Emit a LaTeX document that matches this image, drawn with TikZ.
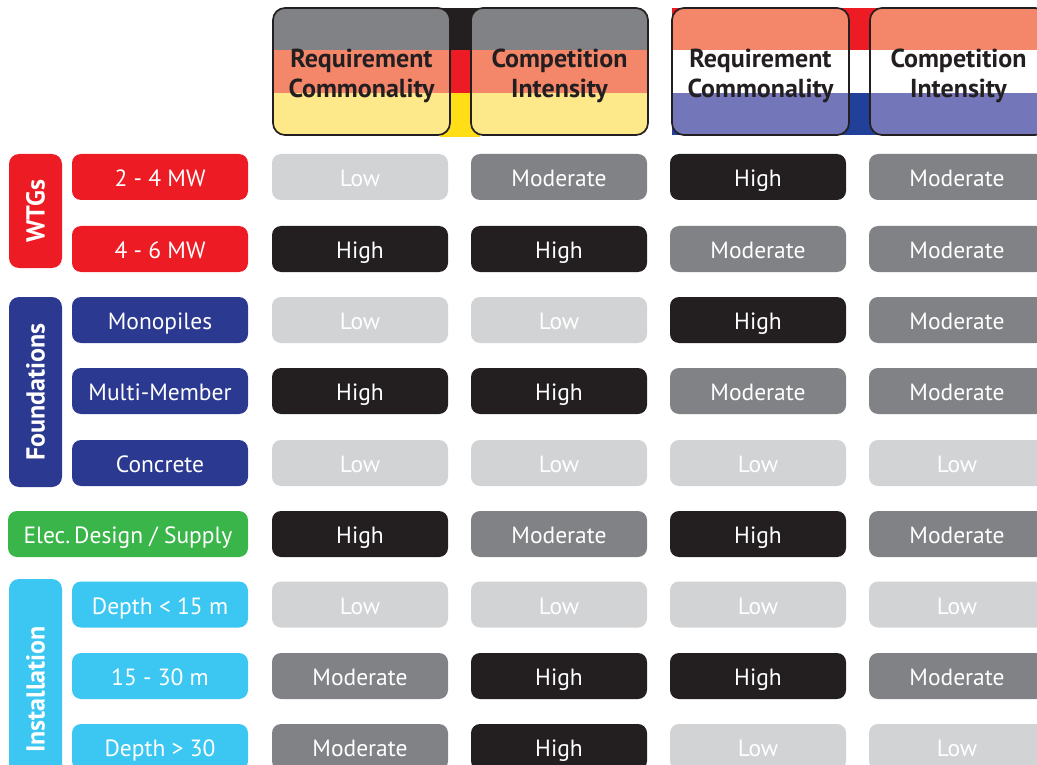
\documentclass[tikz,border=0pt]{standalone}
\usepackage{fontspec}
\setmainfont{PT Sans}
\definecolor{ink}{HTML}{231F20}
\definecolor{lowfill}{HTML}{D1D3D4}
\definecolor{modfill}{HTML}{808285}
\definecolor{highfill}{HTML}{231F20}
\definecolor{wtgred}{HTML}{ED1C24}
\definecolor{fndblue}{HTML}{2B3990}
\definecolor{elecgreen}{HTML}{39B54A}
\definecolor{instcyan}{HTML}{3BC7F2}
\definecolor{flagblack}{HTML}{231F20}
\definecolor{flagred}{HTML}{ED1C24}
\definecolor{flaggold}{HTML}{FFDE17}
\definecolor{flagblue}{HTML}{21409A}
\definecolor{palegray}{HTML}{808285}
\definecolor{palered}{HTML}{F4866A}
\definecolor{paleyellow}{HTML}{FEE98A}
\definecolor{paleblue}{HTML}{7377B9}
\tikzset{
  cellbox/.style={rounded corners=9pt, minimum width=176pt, minimum height=46pt,
    inner sep=0pt, text height=21pt, text depth=2pt, text=white,
    font=\fontsize{23.5}{26}\selectfont},
  Low/.style={cellbox, fill=lowfill},
  Moderate/.style={cellbox, fill=modfill},
  High/.style={cellbox, fill=highfill},
  itembox/.style={cellbox, fill=#1},
  groupbox/.style={rounded corners=10pt, fill=#1, rotate=90, minimum height=53pt,
    inner sep=0pt, text=white, font=\fontsize{26}{28}\selectfont\bfseries},
  hdrbox/.style={draw=ink, line width=1.7pt, rounded corners=12pt, minimum width=177pt,
    minimum height=127pt, inner sep=0pt, align=center, text=ink,
    font=\fontsize{26}{30}\selectfont\bfseries},
}
% top strut that lowers a two-line header a little
\newcommand{\hdrstrut}{\rule{0pt}{27pt}}
\begin{document}
\begin{tikzpicture}[x=1pt,y=-1pt]
\useasboundingbox (0,0) rectangle (1037,765);
\clip (0,0) rectangle (1037,765);

% German flag header: centre strip, tinted boxes
\fill[flagblack] (440,8) rectangle (480,50);
\fill[flagred] (440,50) rectangle (480,93);
\fill[flaggold] (440,93) rectangle (480,137);
\foreach \xl/\xr in {273/450, 471/648}{
  \begin{scope}
    \clip[rounded corners=12pt] (\xl,8) rectangle (\xr,135);
    \fill[palegray] (\xl,8) rectangle (\xr,50);
    \fill[palered] (\xl,50) rectangle (\xr,93);
    \fill[paleyellow] (\xl,93) rectangle (\xr,135);
  \end{scope}
}
\node[hdrbox] (hA) at (361.5,71.5) {\hdrstrut Requirement\\Commonality};
\node[hdrbox] (hB) at (559.5,71.5) {\hdrstrut Competition\\Intensity};

% Dutch flag header
\fill[flagred] (672,8) rectangle (1046,50);
\fill[white] (672,50) rectangle (1046,93);
\fill[flagblue] (672,93) rectangle (1046,135);
\foreach \xl/\xr in {672/849, 870/1047}{
  \begin{scope}
    \clip[rounded corners=12pt] (\xl,8) rectangle (\xr,135);
    \fill[palered] (\xl,8) rectangle (\xr,50);
    \fill[white] (\xl,50) rectangle (\xr,93);
    \fill[paleblue] (\xl,93) rectangle (\xr,135);
  \end{scope}
}
\node[hdrbox] (hC) at (760.5,71.5) {\hdrstrut Requirement\\Commonality};
\node[hdrbox] (hD) at (958.5,71.5) {\hdrstrut Competition\\Intensity};

% Category groups
\node[groupbox=wtgred, minimum width=114pt] (gW) at (35.5,211) {WTGs};
\node[groupbox=fndblue, minimum width=190pt] (gF) at (35.5,392) {Foundations};
\node[groupbox=instcyan, minimum width=221pt] (gI) at (35.5,689.5) {Installation};

% Sub-items
\node[itembox=wtgred] (i1) at (160,177) {2 - 4 MW};
\node[itembox=wtgred] (i2) at (160,249) {4 - 6 MW};
\node[itembox=fndblue] (i3) at (160,320) {Monopiles};
\node[itembox=fndblue] (i4) at (160,391) {Multi-Member};
\node[itembox=fndblue] (i5) at (160,463) {Concrete};
\node[itembox=elecgreen, minimum width=240pt] (i6) at (128,534) {Elec.\,Design / Supply};
\node[itembox=instcyan] (i7) at (160,604.5) {Depth < 15 m};
\node[itembox=instcyan] (i8) at (160,676) {15 - 30 m};
\node[itembox=instcyan] (i9) at (160,747) {Depth > 30};

% Ratings grid
\foreach \r/\y/\a/\b/\c/\d in {
  1/177/Low/Moderate/High/Moderate,
  2/249/High/High/Moderate/Moderate,
  3/320/Low/Low/High/Moderate,
  4/391/High/High/Moderate/Moderate,
  5/463/Low/Low/Low/Low,
  6/534/High/Moderate/High/Moderate,
  7/604.5/Low/Low/Low/Low,
  8/676/Moderate/High/High/Moderate,
  9/747/Moderate/High/Low/Low}{
  \node[\a] (c\r-1) at (360,\y) {\a};
  \node[\b] (c\r-2) at (559,\y) {\b};
  \node[\c] (c\r-3) at (758,\y) {\c};
  \node[\d] (c\r-4) at (957,\y) {\d};
}
\end{tikzpicture}
\end{document}
